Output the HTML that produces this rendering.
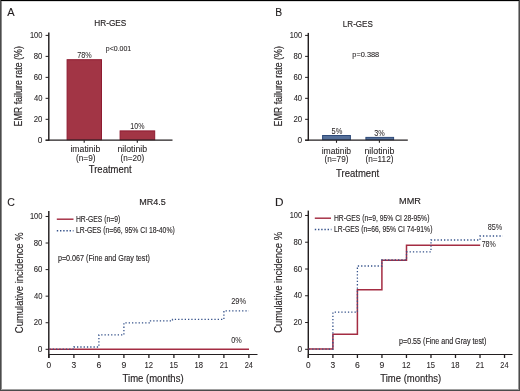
<!DOCTYPE html>
<html><head><meta charset="utf-8"><style>
html,body{margin:0;padding:0;background:#fff;}
body{width:520px;height:391px;overflow:hidden;position:relative;}
svg{position:absolute;left:0;top:0;will-change:transform;}
text{font-family:"Liberation Sans",sans-serif;fill:#231f20;stroke:#231f20;stroke-width:0.1px;}
</style></head><body>
<svg width="520" height="391" viewBox="0 0 520 391">
<rect x="0" y="0" width="520" height="391" fill="#fff"/>
<text x="7.18" y="16.00" font-size="11.70" textLength="7.36" lengthAdjust="spacingAndGlyphs" style="stroke-width:0.12px">A</text>
<text x="94.32" y="26.20" font-size="9.80" textLength="32.05" lengthAdjust="spacingAndGlyphs" style="stroke-width:0.15px">HR-GES</text>
<rect x="67.10" y="59.70" width="34.40" height="80.00" fill="#a23545" stroke="#8e1b30" stroke-width="1.0"/>
<rect x="120.10" y="130.90" width="34.60" height="8.80" fill="#a23545" stroke="#8e1b30" stroke-width="1.0"/>
<line x1="48.80" y1="32.60" x2="48.80" y2="140.80" stroke="#231f20" stroke-width="1.45" />
<line x1="45.60" y1="140.20" x2="172.50" y2="140.20" stroke="#231f20" stroke-width="1.3" />
<line x1="45.60" y1="140.30" x2="48.80" y2="140.30" stroke="#231f20" stroke-width="1.0" />
<line x1="45.60" y1="119.32" x2="48.80" y2="119.32" stroke="#231f20" stroke-width="1.0" />
<line x1="45.60" y1="98.34" x2="48.80" y2="98.34" stroke="#231f20" stroke-width="1.0" />
<line x1="45.60" y1="77.36" x2="48.80" y2="77.36" stroke="#231f20" stroke-width="1.0" />
<line x1="45.60" y1="56.38" x2="48.80" y2="56.38" stroke="#231f20" stroke-width="1.0" />
<line x1="45.60" y1="35.40" x2="48.80" y2="35.40" stroke="#231f20" stroke-width="1.0" />
<text x="37.78" y="142.85" font-size="8.50" textLength="4.63" lengthAdjust="spacingAndGlyphs" style="stroke-width:0.08px">0</text>
<text x="33.71" y="121.87" font-size="8.50" textLength="8.69" lengthAdjust="spacingAndGlyphs" style="stroke-width:0.08px">20</text>
<text x="33.93" y="100.89" font-size="8.50" textLength="8.46" lengthAdjust="spacingAndGlyphs" style="stroke-width:0.08px">40</text>
<text x="33.71" y="79.91" font-size="8.50" textLength="8.69" lengthAdjust="spacingAndGlyphs" style="stroke-width:0.08px">60</text>
<text x="33.76" y="58.93" font-size="8.50" textLength="8.64" lengthAdjust="spacingAndGlyphs" style="stroke-width:0.08px">80</text>
<text x="29.93" y="37.95" font-size="8.50" textLength="12.45" lengthAdjust="spacingAndGlyphs" style="stroke-width:0.08px">100</text>
<line x1="84.20" y1="140.20" x2="84.20" y2="142.80" stroke="#231f20" stroke-width="1.1" />
<line x1="137.30" y1="140.20" x2="137.30" y2="142.80" stroke="#231f20" stroke-width="1.1" />
<text x="77.23" y="57.70" font-size="8.40" textLength="14.43" lengthAdjust="spacingAndGlyphs" style="stroke-width:0.04px">78%</text>
<text x="130.37" y="128.50" font-size="8.40" textLength="14.08" lengthAdjust="spacingAndGlyphs" style="stroke-width:0.04px">10%</text>
<text x="105.85" y="51.30" font-size="7.40" textLength="25.38" lengthAdjust="spacingAndGlyphs" style="stroke-width:0.08px">p&lt;0.001</text>
<text x="70.43" y="152.00" font-size="8.60" textLength="29.94" lengthAdjust="spacingAndGlyphs" style="stroke-width:0.08px">imatinib</text>
<text x="75.99" y="161.30" font-size="8.60" textLength="19.51" lengthAdjust="spacingAndGlyphs" style="stroke-width:0.08px">(n=9)</text>
<text x="117.42" y="151.50" font-size="8.60" textLength="29.76" lengthAdjust="spacingAndGlyphs" style="stroke-width:0.08px">nilotinib</text>
<text x="120.49" y="161.00" font-size="8.60" textLength="23.80" lengthAdjust="spacingAndGlyphs" style="stroke-width:0.08px">(n=20)</text>
<text x="88.79" y="172.80" font-size="10.40" textLength="42.78" lengthAdjust="spacingAndGlyphs" style="stroke-width:0.15px">Treatment</text>
<text transform="translate(22.3,126.53) rotate(-90)" x="0" y="0" font-size="10.30" textLength="80.37" lengthAdjust="spacingAndGlyphs" style="stroke-width:0.15px">EMR failure rate (%)</text>
<text x="275.15" y="15.80" font-size="11.70" textLength="6.90" lengthAdjust="spacingAndGlyphs" style="stroke-width:0.12px">B</text>
<text x="342.84" y="26.70" font-size="9.80" textLength="30.03" lengthAdjust="spacingAndGlyphs" style="stroke-width:0.15px">LR-GES</text>
<rect x="322.60" y="135.50" width="27.80" height="4.20" fill="#55709a" stroke="#2f4b7a" stroke-width="1.0"/>
<rect x="365.90" y="137.40" width="27.70" height="2.30" fill="#55709a" stroke="#2f4b7a" stroke-width="1.0"/>
<line x1="308.30" y1="32.90" x2="308.30" y2="140.80" stroke="#231f20" stroke-width="1.45" />
<line x1="305.10" y1="140.20" x2="407.80" y2="140.20" stroke="#231f20" stroke-width="1.3" />
<line x1="305.10" y1="140.30" x2="308.30" y2="140.30" stroke="#231f20" stroke-width="1.0" />
<line x1="305.10" y1="119.32" x2="308.30" y2="119.32" stroke="#231f20" stroke-width="1.0" />
<line x1="305.10" y1="98.34" x2="308.30" y2="98.34" stroke="#231f20" stroke-width="1.0" />
<line x1="305.10" y1="77.36" x2="308.30" y2="77.36" stroke="#231f20" stroke-width="1.0" />
<line x1="305.10" y1="56.38" x2="308.30" y2="56.38" stroke="#231f20" stroke-width="1.0" />
<line x1="305.10" y1="35.40" x2="308.30" y2="35.40" stroke="#231f20" stroke-width="1.0" />
<text x="297.48" y="142.85" font-size="8.50" textLength="4.63" lengthAdjust="spacingAndGlyphs" style="stroke-width:0.08px">0</text>
<text x="293.41" y="121.87" font-size="8.50" textLength="8.69" lengthAdjust="spacingAndGlyphs" style="stroke-width:0.08px">20</text>
<text x="293.63" y="100.89" font-size="8.50" textLength="8.46" lengthAdjust="spacingAndGlyphs" style="stroke-width:0.08px">40</text>
<text x="293.41" y="79.91" font-size="8.50" textLength="8.69" lengthAdjust="spacingAndGlyphs" style="stroke-width:0.08px">60</text>
<text x="293.46" y="58.93" font-size="8.50" textLength="8.64" lengthAdjust="spacingAndGlyphs" style="stroke-width:0.08px">80</text>
<text x="289.63" y="37.95" font-size="8.50" textLength="12.45" lengthAdjust="spacingAndGlyphs" style="stroke-width:0.08px">100</text>
<line x1="336.50" y1="140.20" x2="336.50" y2="142.80" stroke="#231f20" stroke-width="1.1" />
<line x1="379.40" y1="140.20" x2="379.40" y2="142.80" stroke="#231f20" stroke-width="1.1" />
<text x="331.50" y="133.70" font-size="8.40" textLength="10.76" lengthAdjust="spacingAndGlyphs" style="stroke-width:0.04px">5%</text>
<text x="374.22" y="135.60" font-size="8.40" textLength="10.53" lengthAdjust="spacingAndGlyphs" style="stroke-width:0.04px">3%</text>
<text x="352.33" y="56.90" font-size="7.40" textLength="26.90" lengthAdjust="spacingAndGlyphs" style="stroke-width:0.08px">p=0.388</text>
<text x="321.63" y="153.50" font-size="8.60" textLength="29.52" lengthAdjust="spacingAndGlyphs" style="stroke-width:0.08px">imatinib</text>
<text x="324.49" y="162.40" font-size="8.60" textLength="24.01" lengthAdjust="spacingAndGlyphs" style="stroke-width:0.08px">(n=79)</text>
<text x="364.42" y="153.50" font-size="8.60" textLength="29.96" lengthAdjust="spacingAndGlyphs" style="stroke-width:0.08px">nilotinib</text>
<text x="365.49" y="162.40" font-size="8.60" textLength="28.01" lengthAdjust="spacingAndGlyphs" style="stroke-width:0.08px">(n=112)</text>
<text x="336.09" y="176.80" font-size="10.40" textLength="42.99" lengthAdjust="spacingAndGlyphs" style="stroke-width:0.15px">Treatment</text>
<text transform="translate(281.8,126.53) rotate(-90)" x="0" y="0" font-size="10.30" textLength="80.37" lengthAdjust="spacingAndGlyphs" style="stroke-width:0.15px">EMR failure rate (%)</text>
<text x="7.27" y="206.00" font-size="11.70" textLength="7.63" lengthAdjust="spacingAndGlyphs" style="stroke-width:0.12px">C</text>
<text x="139.26" y="204.90" font-size="9.80" textLength="26.61" lengthAdjust="spacingAndGlyphs" style="stroke-width:0.15px">MR4.5</text>
<line x1="48.80" y1="211.00" x2="48.80" y2="358.00" stroke="#231f20" stroke-width="1.45" />
<line x1="48.80" y1="354.46" x2="257.50" y2="354.46" stroke="#231f20" stroke-width="1.1" />
<line x1="45.60" y1="349.30" x2="48.80" y2="349.30" stroke="#231f20" stroke-width="1.0" />
<line x1="45.60" y1="322.73" x2="48.80" y2="322.73" stroke="#231f20" stroke-width="1.0" />
<line x1="45.60" y1="296.16" x2="48.80" y2="296.16" stroke="#231f20" stroke-width="1.0" />
<line x1="45.60" y1="269.60" x2="48.80" y2="269.60" stroke="#231f20" stroke-width="1.0" />
<line x1="45.60" y1="243.03" x2="48.80" y2="243.03" stroke="#231f20" stroke-width="1.0" />
<line x1="45.60" y1="216.46" x2="48.80" y2="216.46" stroke="#231f20" stroke-width="1.0" />
<text x="37.78" y="351.85" font-size="8.50" textLength="4.63" lengthAdjust="spacingAndGlyphs" style="stroke-width:0.08px">0</text>
<text x="33.71" y="325.28" font-size="8.50" textLength="8.69" lengthAdjust="spacingAndGlyphs" style="stroke-width:0.08px">20</text>
<text x="33.93" y="298.71" font-size="8.50" textLength="8.46" lengthAdjust="spacingAndGlyphs" style="stroke-width:0.08px">40</text>
<text x="33.71" y="272.15" font-size="8.50" textLength="8.69" lengthAdjust="spacingAndGlyphs" style="stroke-width:0.08px">60</text>
<text x="33.76" y="245.58" font-size="8.50" textLength="8.64" lengthAdjust="spacingAndGlyphs" style="stroke-width:0.08px">80</text>
<text x="29.93" y="219.01" font-size="8.50" textLength="12.45" lengthAdjust="spacingAndGlyphs" style="stroke-width:0.08px">100</text>
<line x1="48.90" y1="354.46" x2="48.90" y2="358.00" stroke="#231f20" stroke-width="1.3" />
<text x="46.58" y="368.00" font-size="8.50" textLength="4.63" lengthAdjust="spacingAndGlyphs" style="stroke-width:0.08px">0</text>
<line x1="73.90" y1="354.46" x2="73.90" y2="358.00" stroke="#231f20" stroke-width="1.3" />
<text x="71.58" y="368.00" font-size="8.50" textLength="4.69" lengthAdjust="spacingAndGlyphs" style="stroke-width:0.08px">3</text>
<line x1="98.90" y1="354.46" x2="98.90" y2="358.00" stroke="#231f20" stroke-width="1.3" />
<text x="96.47" y="368.00" font-size="8.50" textLength="4.82" lengthAdjust="spacingAndGlyphs" style="stroke-width:0.08px">6</text>
<line x1="123.90" y1="354.46" x2="123.90" y2="358.00" stroke="#231f20" stroke-width="1.3" />
<text x="121.50" y="368.00" font-size="8.50" textLength="4.82" lengthAdjust="spacingAndGlyphs" style="stroke-width:0.08px">9</text>
<line x1="148.90" y1="354.46" x2="148.90" y2="358.00" stroke="#231f20" stroke-width="1.3" />
<text x="144.51" y="368.00" font-size="8.50" textLength="8.57" lengthAdjust="spacingAndGlyphs" style="stroke-width:0.08px">12</text>
<line x1="173.90" y1="354.46" x2="173.90" y2="358.00" stroke="#231f20" stroke-width="1.3" />
<text x="169.51" y="368.00" font-size="8.50" textLength="8.50" lengthAdjust="spacingAndGlyphs" style="stroke-width:0.08px">15</text>
<line x1="198.89" y1="354.46" x2="198.89" y2="358.00" stroke="#231f20" stroke-width="1.3" />
<text x="194.51" y="368.00" font-size="8.50" textLength="8.52" lengthAdjust="spacingAndGlyphs" style="stroke-width:0.08px">18</text>
<line x1="223.89" y1="354.46" x2="223.89" y2="358.00" stroke="#231f20" stroke-width="1.3" />
<text x="219.72" y="368.00" font-size="8.50" textLength="8.34" lengthAdjust="spacingAndGlyphs" style="stroke-width:0.08px">21</text>
<line x1="248.89" y1="354.46" x2="248.89" y2="358.00" stroke="#231f20" stroke-width="1.3" />
<text x="244.72" y="368.00" font-size="8.50" textLength="8.18" lengthAdjust="spacingAndGlyphs" style="stroke-width:0.08px">24</text>
<text x="122.59" y="381.50" font-size="10.40" textLength="60.98" lengthAdjust="spacingAndGlyphs" style="stroke-width:0.15px">Time (months)</text>
<text transform="translate(22.5,333.17) rotate(-90)" x="0" y="0" font-size="10.30" textLength="100.81" lengthAdjust="spacingAndGlyphs" style="stroke-width:0.15px">Cumulative incidence %</text>
<line x1="56.80" y1="219.20" x2="73.50" y2="219.20" stroke="#a42c42" stroke-width="1.45" />
<line x1="56.80" y1="230.80" x2="73.50" y2="230.80" stroke="#35528a" stroke-width="1.4" stroke-dasharray="1.4 1.8"/>
<text x="75.94" y="221.50" font-size="8.20" textLength="44.27" lengthAdjust="spacingAndGlyphs" style="stroke-width:0.12px">HR-GES (n=9)</text>
<text x="75.94" y="233.00" font-size="8.20" textLength="98.78" lengthAdjust="spacingAndGlyphs" style="stroke-width:0.12px">LR-GES (n=66, 95% CI 18-40%)</text>
<text x="57.94" y="260.90" font-size="8.20" textLength="91.89" lengthAdjust="spacingAndGlyphs" style="stroke-width:0.12px">p=0.067 (Fine and Gray test)</text>
<line x1="48.90" y1="349.15" x2="249.00" y2="349.15" stroke="#a42c42" stroke-width="1.55" />
<path d="M49.4,349.1 H73.9 V347.0 H98.9 V334.9 H123.9 V322.8 H150.5 V320.9 H172.5 V319.4 H223.9 V310.8 H248.9" fill="none" stroke="#35528a" stroke-width="1.3" stroke-dasharray="1.3 2.0"/>
<text x="231.13" y="304.00" font-size="8.40" textLength="14.94" lengthAdjust="spacingAndGlyphs" style="stroke-width:0.04px">29%</text>
<text x="231.22" y="343.00" font-size="8.40" textLength="10.53" lengthAdjust="spacingAndGlyphs" style="stroke-width:0.04px">0%</text>
<text x="275.03" y="206.00" font-size="11.70" textLength="8.54" lengthAdjust="spacingAndGlyphs" style="stroke-width:0.12px">D</text>
<text x="399.05" y="203.90" font-size="9.80" textLength="21.87" lengthAdjust="spacingAndGlyphs" style="stroke-width:0.15px">MMR</text>
<line x1="308.30" y1="210.60" x2="308.30" y2="358.00" stroke="#231f20" stroke-width="1.45" />
<line x1="308.30" y1="354.46" x2="512.50" y2="354.46" stroke="#231f20" stroke-width="1.1" />
<line x1="305.10" y1="349.30" x2="308.30" y2="349.30" stroke="#231f20" stroke-width="1.0" />
<line x1="305.10" y1="322.53" x2="308.30" y2="322.53" stroke="#231f20" stroke-width="1.0" />
<line x1="305.10" y1="295.76" x2="308.30" y2="295.76" stroke="#231f20" stroke-width="1.0" />
<line x1="305.10" y1="269.00" x2="308.30" y2="269.00" stroke="#231f20" stroke-width="1.0" />
<line x1="305.10" y1="242.23" x2="308.30" y2="242.23" stroke="#231f20" stroke-width="1.0" />
<line x1="305.10" y1="215.46" x2="308.30" y2="215.46" stroke="#231f20" stroke-width="1.0" />
<text x="297.48" y="351.85" font-size="8.50" textLength="4.63" lengthAdjust="spacingAndGlyphs" style="stroke-width:0.08px">0</text>
<text x="293.41" y="325.08" font-size="8.50" textLength="8.69" lengthAdjust="spacingAndGlyphs" style="stroke-width:0.08px">20</text>
<text x="293.63" y="298.31" font-size="8.50" textLength="8.46" lengthAdjust="spacingAndGlyphs" style="stroke-width:0.08px">40</text>
<text x="293.41" y="271.55" font-size="8.50" textLength="8.69" lengthAdjust="spacingAndGlyphs" style="stroke-width:0.08px">60</text>
<text x="293.46" y="244.78" font-size="8.50" textLength="8.64" lengthAdjust="spacingAndGlyphs" style="stroke-width:0.08px">80</text>
<text x="289.63" y="218.01" font-size="8.50" textLength="12.45" lengthAdjust="spacingAndGlyphs" style="stroke-width:0.08px">100</text>
<line x1="308.38" y1="354.46" x2="308.38" y2="358.00" stroke="#231f20" stroke-width="1.3" />
<text x="306.06" y="368.00" font-size="8.50" textLength="4.63" lengthAdjust="spacingAndGlyphs" style="stroke-width:0.08px">0</text>
<line x1="332.90" y1="354.46" x2="332.90" y2="358.00" stroke="#231f20" stroke-width="1.3" />
<text x="330.58" y="368.00" font-size="8.50" textLength="4.69" lengthAdjust="spacingAndGlyphs" style="stroke-width:0.08px">3</text>
<line x1="357.42" y1="354.46" x2="357.42" y2="358.00" stroke="#231f20" stroke-width="1.3" />
<text x="354.99" y="368.00" font-size="8.50" textLength="4.82" lengthAdjust="spacingAndGlyphs" style="stroke-width:0.08px">6</text>
<line x1="381.94" y1="354.46" x2="381.94" y2="358.00" stroke="#231f20" stroke-width="1.3" />
<text x="379.54" y="368.00" font-size="8.50" textLength="4.82" lengthAdjust="spacingAndGlyphs" style="stroke-width:0.08px">9</text>
<line x1="406.46" y1="354.46" x2="406.46" y2="358.00" stroke="#231f20" stroke-width="1.3" />
<text x="402.07" y="368.00" font-size="8.50" textLength="8.57" lengthAdjust="spacingAndGlyphs" style="stroke-width:0.08px">12</text>
<line x1="430.98" y1="354.46" x2="430.98" y2="358.00" stroke="#231f20" stroke-width="1.3" />
<text x="426.59" y="368.00" font-size="8.50" textLength="8.50" lengthAdjust="spacingAndGlyphs" style="stroke-width:0.08px">15</text>
<line x1="455.49" y1="354.46" x2="455.49" y2="358.00" stroke="#231f20" stroke-width="1.3" />
<text x="451.11" y="368.00" font-size="8.50" textLength="8.52" lengthAdjust="spacingAndGlyphs" style="stroke-width:0.08px">18</text>
<line x1="480.01" y1="354.46" x2="480.01" y2="358.00" stroke="#231f20" stroke-width="1.3" />
<text x="475.84" y="368.00" font-size="8.50" textLength="8.34" lengthAdjust="spacingAndGlyphs" style="stroke-width:0.08px">21</text>
<line x1="504.53" y1="354.46" x2="504.53" y2="358.00" stroke="#231f20" stroke-width="1.3" />
<text x="500.36" y="368.00" font-size="8.50" textLength="8.18" lengthAdjust="spacingAndGlyphs" style="stroke-width:0.08px">24</text>
<text x="380.29" y="381.70" font-size="10.40" textLength="60.78" lengthAdjust="spacingAndGlyphs" style="stroke-width:0.15px">Time (months)</text>
<text transform="translate(282.0,332.77) rotate(-90)" x="0" y="0" font-size="10.30" textLength="100.81" lengthAdjust="spacingAndGlyphs" style="stroke-width:0.15px">Cumulative incidence %</text>
<line x1="314.80" y1="218.20" x2="331.00" y2="218.20" stroke="#a42c42" stroke-width="1.45" />
<line x1="314.80" y1="229.50" x2="331.50" y2="229.50" stroke="#35528a" stroke-width="1.4" stroke-dasharray="1.4 1.8"/>
<text x="333.94" y="221.00" font-size="8.20" textLength="95.47" lengthAdjust="spacingAndGlyphs" style="stroke-width:0.12px">HR-GES (n=9, 95% CI 28-95%)</text>
<text x="333.94" y="232.00" font-size="8.20" textLength="98.47" lengthAdjust="spacingAndGlyphs" style="stroke-width:0.12px">LR-GES (n=66, 95% CI 74-91%)</text>
<text x="399.04" y="344.00" font-size="8.20" textLength="87.39" lengthAdjust="spacingAndGlyphs" style="stroke-width:0.12px">p=0.55 (Fine and Gray test)</text>
<path d="M308.38,349.1 H332.9 V334.2 H357.4 V289.7 H381.9 V260.2 H406.5 V245.2 H480.2" fill="none" stroke="#a42c42" stroke-width="1.5" />
<path d="M308.9,349.1 H332.9 V312.2 H357.4 V266 H381.9 V260 H406.5 V251.8 H431.0 V240 H480.0 V236 H502.8" fill="none" stroke="#35528a" stroke-width="1.3" stroke-dasharray="1.3 2.0"/>
<text x="481.63" y="247.00" font-size="8.40" textLength="14.12" lengthAdjust="spacingAndGlyphs" style="stroke-width:0.04px">78%</text>
<text x="487.68" y="229.50" font-size="8.40" textLength="14.58" lengthAdjust="spacingAndGlyphs" style="stroke-width:0.04px">85%</text>
<rect x="0" y="1" width="520" height="1" fill="#dcdcdc"/>
<rect x="1" y="0" width="1" height="391" fill="#8c8c8c"/>
<rect x="518" y="0" width="1" height="391" fill="#9a9a9a"/>
<rect x="0" y="389" width="520" height="1" fill="#a0a0a0"/>
<rect x="0" y="0" width="520" height="1" fill="#000"/>
<rect x="0" y="0" width="1" height="391" fill="#4b4b4b"/>
<rect x="519" y="0" width="1" height="391" fill="#4b4b4b"/>
<rect x="0" y="390" width="520" height="1" fill="#4b4b4b"/>
</svg>
</body></html>
